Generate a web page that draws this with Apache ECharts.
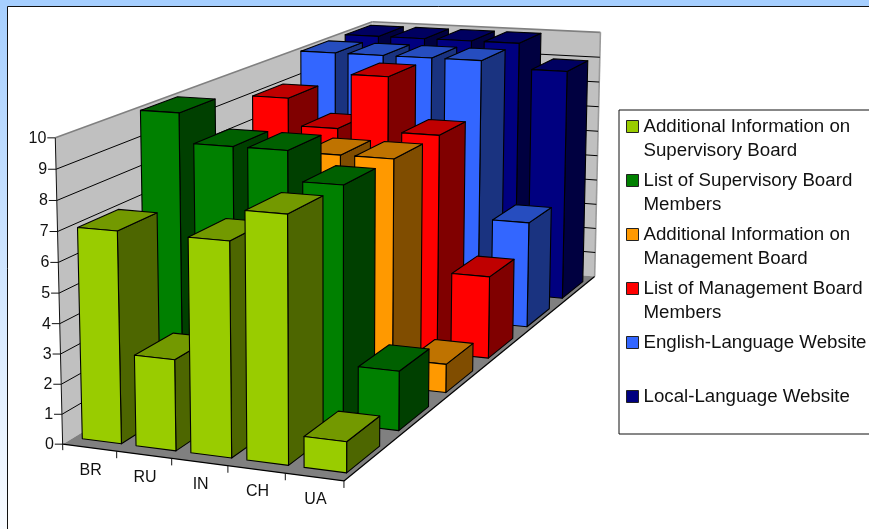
<!DOCTYPE html>
<html><head><meta charset="utf-8">
<style>html,body{margin:0;padding:0;background:#fff}#c{width:869px;height:529px}</style>
<script src="https://cdn.jsdelivr.net/npm/echarts@6/dist/echarts.min.js"></script>
</head><body><div id="c"></div>
<script>
const categories = ['BR','RU','IN','CH','UA'];
const ticks = [0,1,2,3,4,5,6,7,8,9,10];
const seriesNames = ['Additional Information on Supervisory Board','List of Supervisory Board Members','Additional Information on Management Board','List of Management Board Members','English-Language Website','Local-Language Website'];
const legendLabels = ['Additional Information on\nSupervisory Board','List of Supervisory Board\nMembers','Additional Information on\nManagement Board','List of Management Board\nMembers','English-Language Website\n ','Local-Language Website\n '];
const addInfoSupervisory = [7,3,7,8,1];
const listSupervisory = [10,9,9,8,2];
const addInfoManagement = [7,7,8,8,1];
const listManagement = [9,8,10,8,3];
const englishSite = [10,10,10,10,4];
const localSite = [10,10,10,10,9];
const rows = [addInfoSupervisory,listSupervisory,addInfoManagement,listManagement,englishSite,localSite];
const faceColors = ['#99CC00','#008000','#FF9900','#FF0000','#3366FF','#000080'];
const topColors = ['#739900','#006000','#BF7300','#BF0000','#264DBF','#000060'];
const sideColors = ['#4D6600','#004000','#804D00','#800000','#1A3380','#000040'];

// perspective camera, fitted from the plot box corners: [cat, row, value, px, py]
const anchors = [[0,0,0,63,443],[0,0,10,55,138],[5,0,0,344,482],[5,6,0,595,275],[5,6,10,600,33],[0,6,10,373,21],[0,6,0,371,258]];
function solve(pts){
  const A=[],b=[];
  pts.forEach(([x,y,z,u,v])=>{
    A.push([x,y,z,1,0,0,0,0,-u*x,-u*y,-u*z]);b.push(u);
    A.push([0,0,0,0,x,y,z,1,-v*x,-v*y,-v*z]);b.push(v);
  });
  const n=11,M=[];
  for(let i=0;i<n;i++){M.push([]);for(let j=0;j<=n;j++){let s=0;for(let k=0;k<A.length;k++)s+=A[k][i]*(j<n?A[k][j]:b[k]);M[i].push(s);}}
  for(let i=0;i<n;i++){
    let p=i;for(let r=i+1;r<n;r++)if(Math.abs(M[r][i])>Math.abs(M[p][i]))p=r;
    [M[i],M[p]]=[M[p],M[i]];
    for(let r=0;r<n;r++)if(r!==i){const f=M[r][i]/M[i][i];for(let c=i;c<=n;c++)M[r][c]-=f*M[i][c];}
  }
  return M.map((r,i)=>r[n]/r[i]);
}
const H=solve(anchors);
function P(x,y,z){const w=H[8]*x+H[9]*y+H[10]*z+1;return [(H[0]*x+H[1]*y+H[2]*z+H[3])/w,(H[4]*x+H[5]*y+H[6]*z+H[7])/w];}

const GX=100,GY=20,GW=500,GH=400;       // hidden grid that only supplies the scales
function toUV(api,cat,val){const p=api.coord([cat,val]);return [(p[0]-GX)/(GW/5),(GY+GH-p[1])/(GH/10)];}
const barW=0.73,barShift=0.03,rowFront=0.16,rowBack=0.78,GRIDCOL='#000';
function poly(points,fill,stroke,lw){return {type:'polygon',shape:{points},style:{fill,stroke:stroke||'#000',lineWidth:lw==null?1.1:lw,lineJoin:'round'},silent:true};}
function line(a,b,col,lw){return {type:'line',shape:{x1:a[0],y1:a[1],x2:b[0],y2:b[1]},style:{stroke:col,lineWidth:lw||1},silent:true};}
function text(t,x,y,align){return {type:'text',style:{text:t,x,y,textAlign:align,textVerticalAlign:'middle',fill:'#111',font:'16px "Liberation Sans",Arial,sans-serif'},silent:true};}

function barRender(row){return function(params,api){
  const uv=toUV(api,api.value(0),api.value(1));
  const cx=uv[0]+barShift,v=uv[1];
  const u0=cx-barW/2,u1=cx+barW/2,w0=row+rowFront,w1=row+rowBack;
  const fbl=P(u0,w0,0),fbr=P(u1,w0,0),ftl=P(u0,w0,v),ftr=P(u1,w0,v),bbr=P(u1,w1,0),btl=P(u0,w1,v),btr=P(u1,w1,v);
  return {type:'group',children:[
    poly([ftr,fbr,bbr,btr],sideColors[row]),
    poly([ftl,ftr,btr,btl],topColors[row]),
    poly([ftl,fbl,fbr,ftr],faceColors[row])
  ]};
};}
function frameRender(params,api){
  const a=P(0,0,0),a2=P(0,0,10),d=P(0,6,0),d2=P(0,6,10),c=P(5,6,0),c2=P(5,6,10),b=P(5,0,0);
  return {type:'group',children:[
    poly([a,a2,d2,d],'#C0C0C0','none',0),
    poly([d,d2,c2,c],'#C0C0C0','none',0),
    poly([a,d,c,b],'#808080','none',0),
    line(a2,d2,'#808080',1.6),line(d2,c2,'#808080',1.6),line(c2,c,'#9a9a9a',1.6)
  ]};
}
function gridRender(params,api){
  const v=toUV(api,0,api.value(1))[1];
  const a=P(0,0,v),d=P(0,6,v),c=P(5,6,v),ch=[];
  if(v>0&&v<10){ch.push(line(a,d,GRIDCOL),line(d,c,GRIDCOL));}
  ch.push(line([a[0]-8,a[1]],a,'#111'));
  ch.push(text(String(api.value(1)),a[0]-9,a[1]+0.5,'right'));
  return {type:'group',children:ch};
}
function axisRender(params,api){
  const a=P(0,0,0),a2=P(0,0,10),b=P(5,0,0),c=P(5,6,0);
  const ch=[line(a2,[a[0],a[1]+6],'#111'),line(a,b,'#000',1.2),line(b,c,'#000',1.2)];
  categories.forEach((n,i)=>{const t=P(i+1,0,0);ch.push(line(t,[t[0],t[1]+7],'#111'));});
  return {type:'group',children:ch};
}
function catLabelRender(params,api){
  const u=toUV(api,api.value(0),0)[0];
  const p=P(u,0,0);
  return text(categories[params.dataIndex],p[0]+1,p[1]+22.5,'center');
}

const series=[];
const base={type:'custom',coordinateSystem:'cartesian2d',clip:false,silent:true,animation:false};
series.push(Object.assign({},base,{name:'frame',renderItem:frameRender,data:[[categories[0],0]],encode:{x:0,y:1},z:2}));
series.push(Object.assign({},base,{name:'grid',renderItem:gridRender,data:ticks.map(t=>[categories[0],t]),encode:{x:0,y:1},z:3}));
series.push(Object.assign({},base,{name:'axes',renderItem:axisRender,data:[[categories[0],0]],encode:{x:0,y:1},z:3}));
series.push(Object.assign({},base,{name:'catLabels',renderItem:catLabelRender,data:categories.map(c=>[c,0]),encode:{x:0,y:1},z:3}));
for(let r=rows.length-1;r>=0;r--){
  series.push(Object.assign({},base,{name:seriesNames[r],renderItem:barRender(r),itemStyle:{color:faceColors[r]},
    data:categories.map((c,i)=>[c,rows[r][i]]),encode:{x:0,y:1},z:10+(rows.length-r)}));
}
const chart=echarts.init(document.getElementById('c'),null,{renderer:'canvas'});
chart.setOption({
  animation:false,
  backgroundColor:{type:'linear',x:0,y:0,x2:0,y2:1,colorStops:[{offset:0,color:'#A6CFFF'},{offset:1,color:'#F8FBFF'}]},
  tooltip:{show:false},
  grid:{left:GX,top:GY,width:GW,height:GH,show:false},
  xAxis:{type:'category',data:categories,show:false},
  yAxis:{type:'value',min:0,max:10,interval:1,show:false},
  graphic:[
    {type:'rect',z:0,shape:{x:0,y:0,width:869,height:6},style:{fill:'#A6CFFF'}},
    {type:'rect',z:1,shape:{x:7.5,y:6.5,width:880,height:540},style:{fill:'#fff',stroke:'#111',lineWidth:1}}
  ],
  legend:{
    left:619,top:110,orient:'vertical',selectedMode:false,
    data:seriesNames,
    formatter:n=>legendLabels[seriesNames.indexOf(n)],
    icon:'path://M0 6H12V18H0Z M0 0L0 0 M0 48L0 48',
    itemWidth:12,itemHeight:48,itemGap:5,
    padding:[4,12,1,7],
    borderColor:'#111',borderWidth:1,borderRadius:0,backgroundColor:'#fff',
    itemStyle:{borderColor:'#222',borderWidth:1},
    textStyle:{color:'#111',fontFamily:'"Liberation Sans",Arial,sans-serif',fontSize:18.7,lineHeight:24}
  },
  series
});
</script></body></html>
